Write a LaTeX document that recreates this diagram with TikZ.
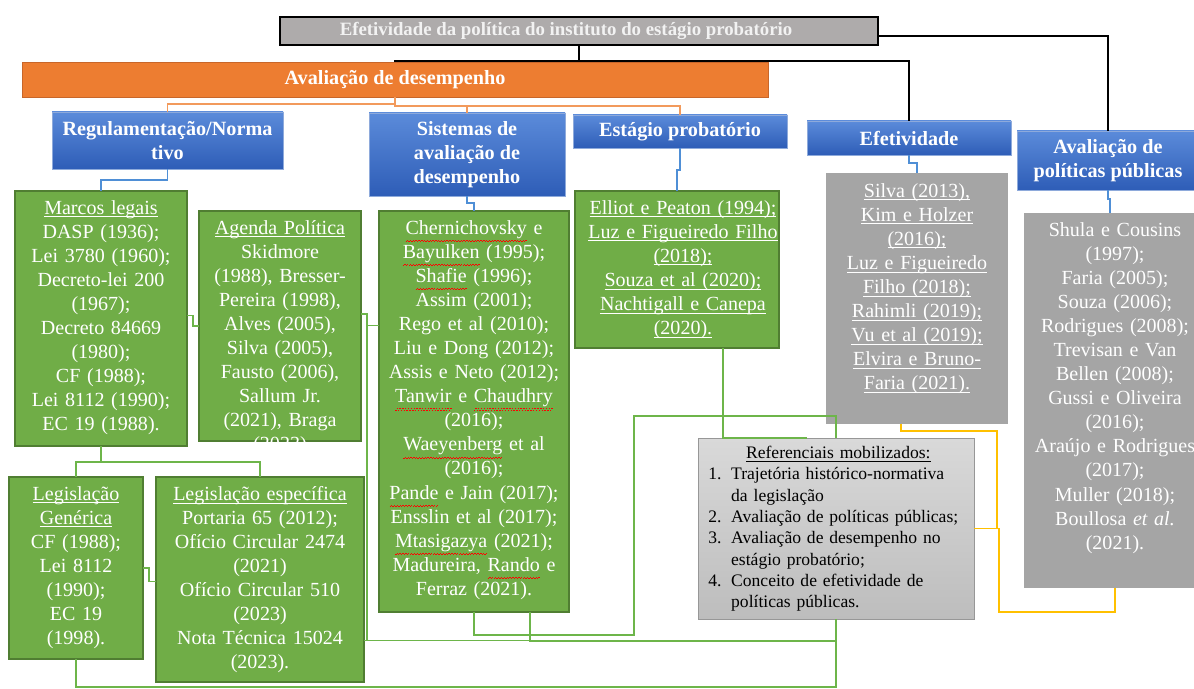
\documentclass[tikz,border=0pt]{standalone}
\usepackage{fontspec}
\setmainfont{Liberation Serif}
\usepackage{tikz}
\usetikzlibrary{calc,
                fit
                }

\definecolor{gruen}{HTML}{70AD47}
\definecolor{gruenrand}{HTML}{507E32}
\definecolor{gruenlinie}{HTML}{6DB54A}
\definecolor{mittelgrau}{HTML}{A5A5A5}
\definecolor{obengrau}{HTML}{AEABAB}
\definecolor{orangefill}{HTML}{ED7D31}
\definecolor{orangerand}{HTML}{C8662A}
\definecolor{orangelinie}{HTML}{F29A5C}
\definecolor{blauoben}{HTML}{5B8BDA}
\definecolor{blauunten}{HTML}{2E5DB7}
\definecolor{blaurand}{HTML}{8EAADB}
\definecolor{blaulinie}{HTML}{4F8FD6}
\definecolor{refoben}{HTML}{D9D9D9}
\definecolor{refunten}{HTML}{BDBDBD}
\definecolor{gelblinie}{HTML}{FFC000}

% Unterstreichung und rote Wellenlinie der Rechtschreibprüfung
\newsavebox{\wortbox}
\newcommand{\ul}[1]{\leavevmode\sbox{\wortbox}{#1}\rlap{\usebox{\wortbox}}%
  \rule[-1.7pt]{\wd\wortbox}{0.5pt}}
\newcommand{\welle}[1]{\leavevmode\sbox{\wortbox}{#1}\rlap{\usebox{\wortbox}}%
  \textcolor{red}{\hbox to \wd\wortbox{\xleaders\hbox{\rule[-4.3pt]{0.8pt}{0.45pt}%
  \rule[-3.7pt]{0.8pt}{0.45pt}}\hfill}}}
\newcommand{\listfont}{\fontsize{11.4}{13.7}\selectfont}

\tikzset{
  kasten/.style={inner sep=0pt, outer sep=0pt},
  gbox/.style={kasten, draw=gruenrand, fill=gruen, line width=0.6pt},
  graubox/.style={kasten, fill=mittelgrau},
  blaubox/.style={kasten, draw=blaurand, line width=0.5pt, top color=blauoben,
                  bottom color=blauunten},
  kopftext/.style={inner sep=0pt, text=white, align=center,
                   font=\bfseries\fontsize{11.5}{13.6}\selectfont},
  listtext/.style={text=white, font=\listfont, text width=4.6cm,
                   align=center, inner sep=0pt, anchor=north},
  kline/.style={black, line width=0.8pt},
  oline/.style={orangelinie, line width=0.9pt},
  bline/.style={blaulinie, line width=0.9pt},
  gline/.style={gruenlinie, line width=0.9pt},
  yline/.style={gelblinie, line width=1pt}
}

\begin{document}
\begin{tikzpicture}[x=0.02cm, y=-0.02cm]
    \useasboundingbox (0,0) rectangle (1194,689);

    % Oberste Ebene
    \node[kasten, draw=black, line width=1.2pt, fill=obengrau,
          fit={(280,17) (878,45)}] (oben) {};
    \node[kopftext, text=white!95!black, font=\bfseries\fontsize{10.7}{12}\selectfont]
          (obenT) at ($(oben.center)+(-13,0)$)
          {Efetividade da política do instituto do estágio probatório};
    \node[kasten, draw=orangerand, line width=0.5pt, fill=orangefill,
          fit={(22,62) (768,97)}] (avdes) {};
    \node[kopftext] (avdesT) at (avdes.center) {Avaliação de desempenho};

    % Blaue Kategorien
    \node[blaubox, fit={(52,112) (283,169)}] (reg) {};
    \node[kopftext] (regT) at (reg.center) {Regulamentação/Norma\\tivo};
    \node[blaubox, fit={(369,113) (565,196)}] (sist) {};
    \node[kopftext] (sistT) at (sist.center) {Sistemas de\\avaliação de\\desempenho};
    \node[blaubox, fit={(573,115) (787,148)}] (estag) {};
    \node[kopftext] (estagT) at (estag.center) {Estágio probatório};
    \node[blaubox, fit={(807,121) (1011,155)}] (efet) {};
    \node[kopftext] (efetT) at (efet.center) {Efetividade};
    \node[blaubox, fit={(1017,131) (1199,190)}] (avpol) {};
    \node[kopftext] (avpolT) at (avpol.center) {Avaliação de\\políticas públicas};

    % Grüne Kästen
    \node[gbox, fit={(15,191) (187,446)}] (marcos) {};
    \node[listtext] (marcosT) at ($(marcos.north)+(0,9)$)
          {\ul{Marcos legais}\\DASP (1936);\\Lei 3780 (1960);\\Decreto-lei 200\\
           (1967);\\Decreto 84669\\(1980);\\CF (1988);\\Lei 8112 (1990);\\EC 19 (1988).};
    \node[gbox, fit={(199,211) (361,441)}] (agenda) {};
    \begin{scope}
      \clip (agenda.north west) rectangle (agenda.south east);
      \node[listtext] (agendaT) at ($(agenda.north)+(0,9)$)
            {\ul{Agenda Política}\\Skidmore\\(1988), Bresser-\\Pereira (1998),\\
             Alves (2005),\\Silva (2005),\\Fausto (2006),\\Sallum Jr.\\(2021), Braga\\(2023)};
    \end{scope}
    \node[gbox, fit={(379,211) (569,612)}] (chern) {};
    \node[listtext] (chernT) at ($(chern.north)+(0,9)$)
          {\welle{Chernichovsky} e\\\welle{Bayulken} (1995);\\\welle{Shafie} (1996);\\
           Assim (2001);\\Rego et al (2010);\\Liu e Dong (2012);\\Assis e Neto (2012);\\
           \welle{Tanwir} e \welle{Chaudhry}\\(2016);\\\welle{Waeyenberg} et al\\(2016);\\
           \welle{Pande} e Jain (2017);\\Ensslin et al (2017);\\\welle{Mtasigazya} (2021);\\
           Madureira, \welle{Rando} e\\Ferraz (2021).};
    \node[gbox, fit={(575,191) (779,348)}] (elliot) {};
    \node[listtext] (elliotT) at ($(elliot.north)+(6,9)$)
          {\ul{Elliot e Peaton (1994);}\\\ul{Luz e Figueiredo Filho}\\\ul{(2018);}\\
           \ul{Souza et al (2020);}\\\ul{Nachtigall e Canepa}\\\ul{(2020).}};
    \node[gbox, fit={(9,477) (143,659)}] (leggen) {};
    \node[listtext] (leggenT) at ($(leggen.north)+(0,9)$)
          {\ul{Legislação}\\\ul{Genérica}\\CF (1988);\\Lei 8112\\(1990);\\EC 19\\(1998).};
    \node[gbox, fit={(156,477) (364,682)}] (legesp) {};
    \node[listtext] (legespT) at ($(legesp.north)+(0,9)$)
          {\ul{Legislação específica}\\Portaria 65 (2012);\\Ofício Circular 2474\\(2021)\\
           Ofício Circular 510\\(2023)\\Nota Técnica 15024\\(2023).};

    % Graue Kästen
    \node[graubox, fit={(826,173) (1008,424)}] (silva) {};
    \node[listtext] (silvaT) at ($(silva.north)+(0,10)$)
          {\ul{Silva (2013),}\\\ul{Kim e Holzer}\\\ul{(2016);}\\\ul{Luz e Figueiredo}\\
           \ul{Filho (2018);}\\\ul{Rahimli (2019);}\\\ul{Vu et al (2019);}\\
           \ul{Elvira e Bruno-}\\\ul{Faria (2021).}};
    \node[graubox, fit={(1024,213) (1196,588)}] (shula) {};
    \node[listtext] (shulaT) at ($(shula.north)+(5,9)$)
          {Shula e Cousins\\(1997);\\Faria (2005);\\Souza (2006);\\Rodrigues (2008);\\
           Trevisan e Van\\Bellen (2008);\\Gussi e Oliveira\\(2016);\\Araújo e Rodrigues\\
           (2017);\\Muller (2018);\\Boullosa \textit{et al.}\\(2021).};

    % Referenciais
    \node[kasten, draw=refunten!80!black, line width=0.5pt, top color=refoben,
          bottom color=refunten, fit={(698,438) (974,619)}] (ref) {};
    \node[inner sep=0pt, anchor=north west, text width=5.2cm, align=left,
          font=\fontsize{10}{12.1}\selectfont] (refT) at ($(ref.north west)+(10,8)$)
          {\makebox[5.2cm][c]{\ul{Referenciais mobilizados:}}\\
           \makebox[1.3em][l]{1.}Trajetória histórico-normativa\\
           \hspace*{1.3em}da legislação\\
           \makebox[1.3em][l]{2.}Avaliação de políticas públicas;\\
           \makebox[1.3em][l]{3.}Avaliação de desempenho no\\
           \hspace*{1.3em}estágio probatório;\\
           \makebox[1.3em][l]{4.}Conceito de efetividade de\\
           \hspace*{1.3em}políticas públicas.};

    % Schwarze Verbindungen
    \draw[kline] (oben.south) -- ++(0,16) -| (avdes.north);
    \draw[kline] (oben.south) -- ++(0,16) -| (efet.north);
    \draw[kline] ($(oben.east)+(0,5)$) -| (avpol.north);

    % Orange Verbindungen
    \draw[oline] (avdes.south) -- ++(0,7) -| (reg.north);
    \draw[oline] (avdes.south) -- ++(0,9) -| (sist.north);
    \draw[oline] (avdes.south) -- ++(0,9) -| (estag.north);

    % Blaue Verbindungen
    \draw[bline] (reg.south) -- ++(0,11) -| (marcos.north);
    \draw[bline] (sist.south) -- ++(0,7) -| (chern.north);
    \draw[bline] (estag.south) -- ++(0,22) -| (elliot.north);
    \draw[bline] (efet.south) -- ++(0,8) -| (silva.north);
    \draw[bline] (avpol.south) -- ++(0,9) -| (shula.north);

    % Grüne Verbindungen
    \draw[gline] (marcos.south) -- ++(0,16) -| (leggen.north);
    \draw[gline] (marcos.south) -- ++(0,16) -| (legesp.north);
    \draw[gline] ($(marcos.east)+(0,-3)$) -- ++(6,0) |- (agenda.west);
    \draw[gline] ($(agenda.east)+(0,-12)$) -- ++(6,0) |- ($(chern.west)+(0,-86)$);
    \draw[gline] ($(agenda.east)+(0,-12)$) -- ++(6,0) -- ++(0,327);
    \draw[gline] (leggen.east) -- ++(6,0) |- ($(legesp.west)+(0,2)$);
    \draw[gline] ($(legesp.east)+(0,61)$) -| (ref.south);
    \draw[gline] (leggen.south) -- ++(0,28) -| (ref.south);
    \draw[gline] (chern.south) -- ++(0,23) -| ++(160,-219) -| (ref.north);
    \draw[gline] ($(chern.south)+(56,0)$) -- ++(0,29) -| (ref.south);
    \draw[gline] ($(elliot.south)+(46,0)$) |- ($(ref.north)+(-29,0)$);

    % Gelbe Verbindungen
    \draw[yline] ($(silva.south)+(-16,0)$) -- ++(0,7) -| ($(ref.east)+(23,0)$) -- (ref.east);
    \draw[yline] ($(shula.south)+(5,0)$) -- ++(0,24) -| ($(ref.east)+(25,0)$) -- (ref.east);
\end{tikzpicture}
\end{document}
